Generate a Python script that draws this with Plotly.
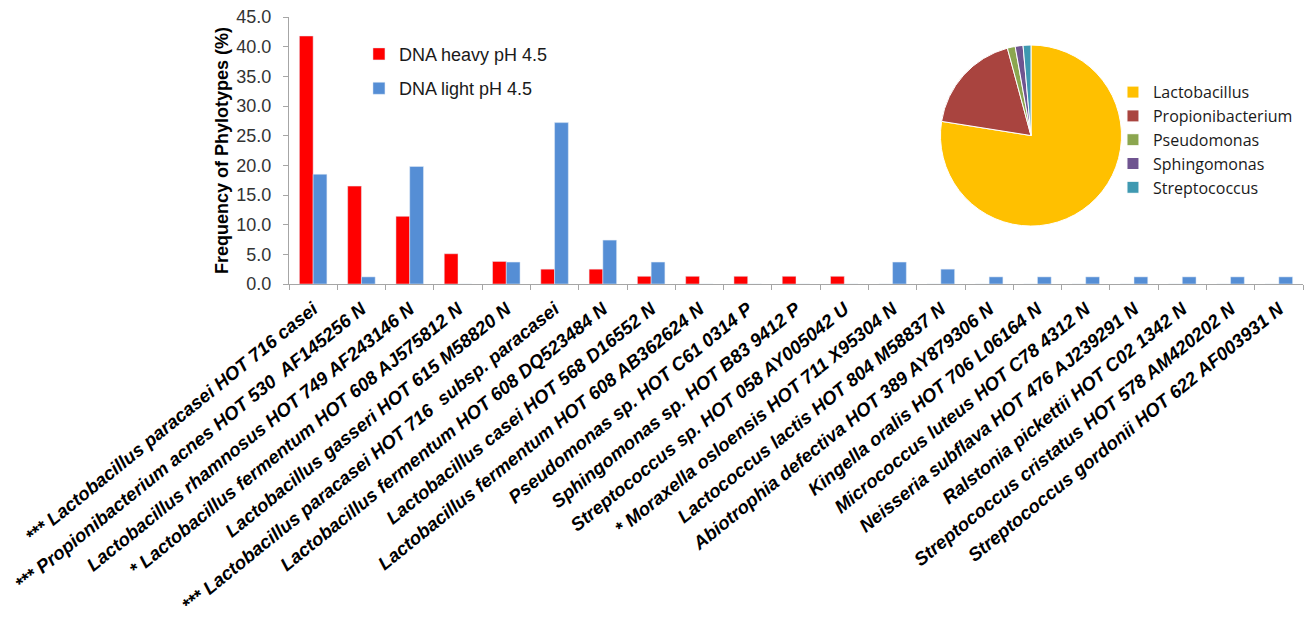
import plotly.graph_objects as go

categories = [
    "*** Lactobacillus paracasei HOT 716 casei",
    "*** Propionibacterium acnes HOT 530\u00a0 AF145256 N",
    "Lactobacillus rhamnosus HOT 749 AF243146 N",
    "* Lactobacillus fermentum HOT 608 AJ575812 N",
    "Lactobacillus gasseri HOT 615 M58820 N",
    "*** Lactobacillus paracasei HOT 716\u00a0 subsp. paracasei",
    "Lactobacillus fermentum HOT 608 DQ523484 N",
    "Lactobacillus casei HOT 568 D16552 N",
    "Lactobacillus fermentum HOT 608 AB362624 N",
    "Pseudomonas sp. HOT C61 0314 P",
    "Sphingomonas sp. HOT B83 9412 P",
    "Streptococcus sp. HOT 058 AY005042 U",
    "* Moraxella osloensis HOT 711 X95304 N",
    "Lactococcus lactis HOT 804 M58837 N",
    "Abiotrophia defectiva HOT 389 AY879306 N",
    "Kingella oralis HOT 706 L06164 N",
    "Micrococcus luteus HOT C78 4312 N",
    "Neisseria subflava HOT 476 AJ239291 N",
    "Ralstonia pickettii HOT C02 1342 N",
    "Streptococcus cristatus HOT 578 AM420202 N",
    "Streptococcus gordonii HOT 622 AF003931 N",
]

heavy = [41.8, 16.5, 11.4, 5.1, 3.8, 2.5, 2.5, 1.3, 1.3, 1.3, 1.3, 1.3,
         0, 0, 0, 0, 0, 0, 0, 0, 0]
light = [18.5, 1.2, 19.8, 0, 3.7, 27.2, 7.4, 3.7, 0, 0, 0, 0,
         3.7, 2.5, 1.2, 1.2, 1.2, 1.2, 1.2, 1.2, 1.2]

genera = ["Lactobacillus", "Propionibacterium", "Pseudomonas", "Sphingomonas", "Streptococcus"]
genus_share = [77.5, 18.3, 1.4, 1.4, 1.4]
genus_colors = ["#FFC000", "#A9443F", "#8BA64F", "#6F5490", "#3F99B1"]

fig = go.Figure()
fig.add_trace(go.Bar(x=categories, y=heavy, name="DNA heavy pH 4.5",
                     marker=dict(color="#FF0000"), legendgroup="h"))
fig.add_trace(go.Bar(x=categories, y=light, name="DNA light pH 4.5",
                     marker=dict(color="#558ED5"), legendgroup="l"))
fig.add_trace(go.Pie(labels=genera, values=genus_share, sort=False,
                     direction="clockwise", rotation=0, textinfo="none",
                     marker=dict(colors=genus_colors, line=dict(color="white", width=1)),
                     domain=dict(x=[0.642, 0.8215], y=[0.217, 0.895]),
                     legend="legend2", hoverinfo="label+percent"))

fig.update_layout(
    width=1305, height=619,
    margin=dict(l=289, r=2, t=17, b=335),
    paper_bgcolor="white", plot_bgcolor="white",
    barmode="group", bargap=0.43, bargroupgap=0,
    font=dict(family="Arial", color="#000000"),
    showlegend=True,
    legend=dict(x=0.069, y=0.93, xanchor="left", yanchor="top",
                font=dict(family="Arial", size=18, color="#1a1a1a"),
                traceorder="grouped", tracegroupgap=8,
                bgcolor="rgba(0,0,0,0)"),
    legend2=dict(x=0.8126, y=0.782, xanchor="left", yanchor="top",
                 font=dict(family="Open Sans", size=16, color="#1a1a1a"),
                 bgcolor="rgba(0,0,0,0)"),
    xaxis=dict(type="category", tickangle=-39, automargin=False,
               tickfont=dict(family="Arial", size=18.6, weight="bold", style="italic", color="#000000"),
               ticks="outside", tickson="boundaries", ticklen=5, tickcolor="#A6A6A6",
               ticklabelstandoff=6,
               showline=True, linecolor="#A6A6A6", linewidth=1, showgrid=False),
    yaxis=dict(range=[0, 45], dtick=5, tickformat=".1f", automargin=False,
               tickfont=dict(family="Arial", size=18, color="#333333"),
               ticks="outside", ticklen=5, tickcolor="#A6A6A6",
               ticklabelstandoff=8,
               showline=True, linecolor="#A6A6A6", linewidth=1, showgrid=False, zeroline=False,
               title=dict(text="Frequency of Phylotypes (%)", standoff=3,
                          font=dict(family="Arial", size=18, weight="bold", color="#000000"))),
)

fig.write_html("out.html", include_plotlyjs=True, config={"displayModeBar": False},
               post_script="document.body.style.margin='0px';document.body.style.overflow='hidden';")
